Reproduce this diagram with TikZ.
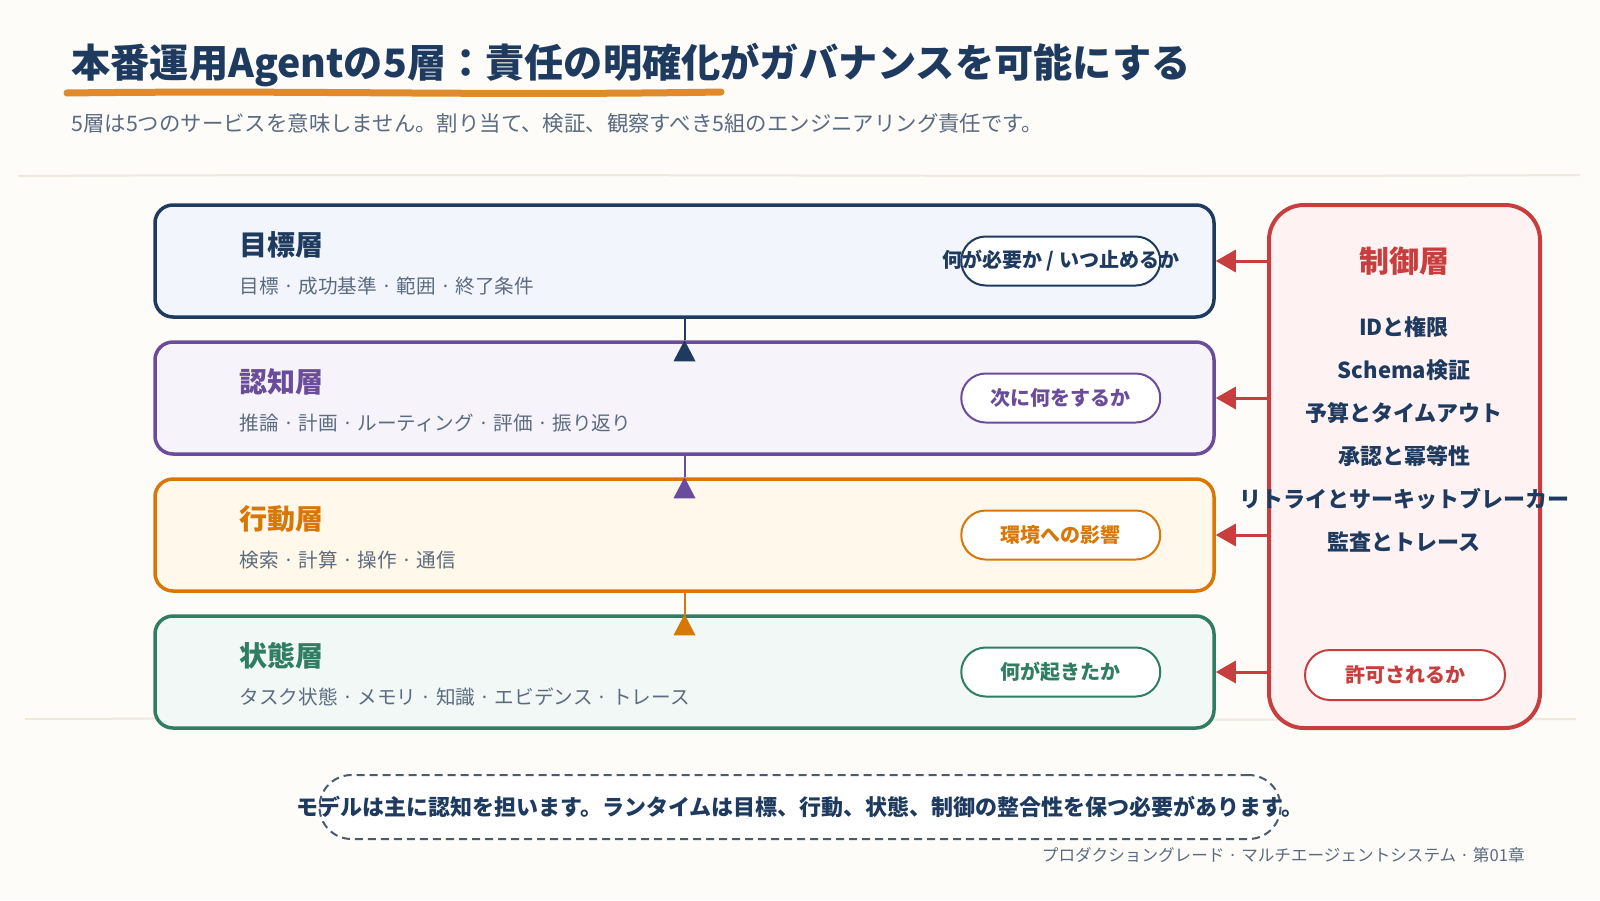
\documentclass[tikz,border=0pt]{standalone}
\usepackage{fontspec}
\setmainfont{Noto Sans CJK JP}
\usepackage{tikz}
\usetikzlibrary{calc,arrows.meta}
\definecolor{GoalNavy}{HTML}{1E3A5F}
\definecolor{GoalFill}{HTML}{F2F6FC}
\definecolor{ThinkPurple}{HTML}{6B4C9A}
\definecolor{ThinkFill}{HTML}{F6F3FB}
\definecolor{ActOrange}{HTML}{D97706}
\definecolor{ActFill}{HTML}{FFF8EB}
\definecolor{StateGreen}{HTML}{2F7D62}
\definecolor{StateFill}{HTML}{F1F8F5}
\definecolor{CtrlRed}{HTML}{C83E3E}
\definecolor{CtrlFill}{HTML}{FFF2F2}
\definecolor{InkSlate}{HTML}{5B6B80}
\definecolor{PaperBg}{HTML}{FDFCF8}
\definecolor{RuleBeige}{HTML}{EEE8DD}
\definecolor{MarkerOrange}{HTML}{E08A2B}
\definecolor{DashSlate}{HTML}{4A5A70}

\begin{document}
\begin{tikzpicture}[x=0.5pt,y=-0.5pt,
  layerbox/.style 2 args={draw=#1,fill=#2,line width=1.75pt,rounded corners=9pt,minimum width=529.5pt,minimum height=56pt,inner sep=0pt},
  pill/.style={draw=#1,fill=white,line width=1pt,rounded corners=12.25pt,minimum width=99.5pt,minimum height=24.5pt,inner sep=0pt},
  pilltext/.style={font=\fontsize{10}{12}\selectfont\bfseries,text=#1,inner sep=0pt},
  layertitle/.style={anchor=west,font=\fontsize{14}{16}\selectfont\bfseries,text=#1,inner sep=0pt},
  layersub/.style={anchor=west,font=\fontsize{9.8}{11}\selectfont,text=InkSlate,inner sep=0pt},
  ctrlitem/.style={font=\fontsize{11}{13}\selectfont\bfseries,text=GoalNavy,inner sep=0pt},
  ctrlarrow/.style={draw=CtrlRed,line width=1.5pt,-{Triangle[length=10pt,width=11pt]}}]
  \fill[PaperBg] (0,0) rectangle (1600,900);
  \useasboundingbox (0,0) rectangle (1600,900);

  % Title
  \node[anchor=base west,inner sep=0pt,font=\fontsize{19.6}{24}\selectfont\bfseries,text=GoalNavy] (title) at (71,77) {本番運用Agentの5層：責任の明確化がガバナンスを可能にする};
  \draw[MarkerOrange,line width=3.5pt,line cap=round] (67,93) .. controls (300,90) and (480,96) .. (721,92);
  \node[anchor=base west,inner sep=0pt,font=\fontsize{10.7}{12}\selectfont,text=InkSlate] (subtitle) at (71,131) {5層は5つのサービスを意味しません。割り当て、検証、観察すべき5組のエンジニアリング責任です。};
  \draw[RuleBeige,line width=1pt] (18,176) .. controls (600,173) and (1000,178) .. (1580,175);
  \draw[RuleBeige,line width=1pt] (25,719) .. controls (600,717) and (1000,721) .. (1576,719);

  % Layers
  \foreach \n/\y/\col/\f/\t/\s/\p in {
    goal/261/GoalNavy/GoalFill/目標層/目標 · 成功基準 · 範囲 · 終了条件/{何が必要か / いつ止めるか},
    think/398/ThinkPurple/ThinkFill/認知層/推論 · 計画 · ルーティング · 評価 · 振り返り/次に何をするか,
    act/535/ActOrange/ActFill/行動層/検索 · 計算 · 操作 · 通信/環境への影響,
    state/672/StateGreen/StateFill/状態層/タスク状態 · メモリ · 知識 · エビデンス · トレース/何が起きたか} {
    \node[layerbox={\col}{\f}] (\n) at (684.5,\y) {};
    \node[layertitle=\col] (\n-t) at ($(\n.west)+(86,-16)$) {\t};
    \node[layersub] (\n-s) at ($(\n.west)+(86,25)$) {\s};
    \node[pill=\col] (\n-p) at ($(\n.east)+(-155,0)$) {};
    \node[pilltext=\col] (\n-pt) at (\n-p) {\p};
  }

  % Upward links between layers
  \draw[GoalNavy,line width=1pt] (goal.south) -- (think.north);
  \fill[GoalNavy] (think.north) -- ++(-11,21) -- ++(22,0) -- cycle;
  \draw[ThinkPurple,line width=1pt] (think.south) -- (act.north);
  \fill[ThinkPurple] (act.north) -- ++(-11,21) -- ++(22,0) -- cycle;
  \draw[ActOrange,line width=1pt] (act.south) -- (state.north);
  \fill[ActOrange] (state.north) -- ++(-11,21) -- ++(22,0) -- cycle;

  % Control layer
  \node[draw=CtrlRed,fill=CtrlFill,line width=2pt,rounded corners=17.5pt,minimum width=135.5pt,minimum height=261.5pt,inner sep=0pt] (ctrl) at (1404.5,466.5) {};
  \node[font=\fontsize{15}{18}\selectfont\bfseries,text=CtrlRed,inner sep=0pt] (ctrl-t) at (1404,261) {制御層};
  \foreach \t [count=\i] in {IDと権限,Schema検証,予算とタイムアウト,承認と冪等性,リトライとサーキットブレーカー,監査とトレース}
    \node[ctrlitem] (ctrl-item\i) at (1404,{284+43*\i}) {\t};
  \node[pill=CtrlRed,minimum width=100pt,minimum height=25pt,rounded corners=12.5pt] (ctrl-p) at (1405,675) {};
  \node[pilltext=CtrlRed] (ctrl-pt) at (ctrl-p) {許可されるか};
  \foreach \n in {goal,think,act,state}
    \draw[ctrlarrow] (ctrl.west |- \n) -- (\n.east);

  % Note and footer
  \node[draw=DashSlate,fill=white,line width=1pt,dash pattern=on 4pt off 2.5pt,rounded corners=16pt,minimum width=480.5pt,minimum height=32pt,inner sep=0pt] (note) at (800,807) {};
  \node[font=\fontsize{11}{13}\selectfont\bfseries,text=GoalNavy,inner sep=0pt] (note-t) at (note) {モデルは主に認知を担います。ランタイムは目標、行動、状態、制御の整合性を保つ必要があります。};
  \node[anchor=east,font=\fontsize{8.3}{10}\selectfont,text=InkSlate,inner sep=0pt] (footer) at (1525,855) {プロダクショングレード · マルチエージェントシステム · 第01章};
\end{tikzpicture}
\end{document}
